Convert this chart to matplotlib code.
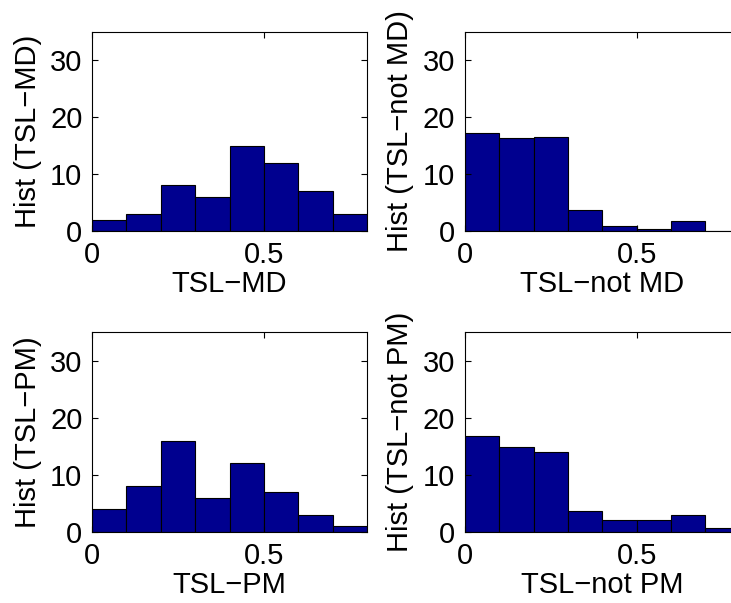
import matplotlib
matplotlib.use("Agg")
import matplotlib.pyplot as plt
import numpy as np

# bin edges shared by all four histograms
bin_edges = [0.0, 0.1, 0.2, 0.3, 0.4, 0.5, 0.6, 0.7, 0.8]

# bar heights
hist_md = [2, 3, 8, 6, 15, 12, 7, 3]
hist_not_md = [17.3, 16.3, 16.6, 3.6, 0.95, 0.3, 1.7, 0]
hist_pm = [4, 8, 16, 6, 12, 7, 3, 1]
hist_not_pm = [16.8, 14.8, 14.0, 3.65, 2.0, 2.0, 2.95, 0.6]

xlabels = ["TSL\u2212MD", "TSL\u2212not MD", "TSL\u2212PM", "TSL\u2212not PM"]

plt.rcParams['font.family'] = ['Liberation Sans', 'DejaVu Sans']
plt.rcParams['font.size'] = 21

fig = plt.figure(figsize=(7.31, 6.03), dpi=100)

# axes boxes in figure fraction; the right column runs past the figure edge
boxes = [
    [0.126, 0.617, 0.376, 0.330],
    [0.636, 0.617, 0.376, 0.330],
    [0.126, 0.118, 0.376, 0.331],
    [0.636, 0.118, 0.376, 0.331],
]
series = [hist_md, hist_not_md, hist_pm, hist_not_pm]

edges = np.array(bin_edges)
for box, counts, lab in zip(boxes, series, xlabels):
    ax = fig.add_axes(box)
    ax.bar(edges[:-1], counts, width=np.diff(edges), align='edge',
           color=(0, 0, 0.5625), edgecolor='black', linewidth=0.8)
    ax.set_xlim(0, 0.8)
    ax.set_ylim(0, 35)
    ax.set_xticks([0, 0.5])
    ax.set_xticklabels(['0', '0.5'])
    ax.set_yticks([0, 10, 20, 30])
    ax.tick_params(direction='in', top=True, right=True, length=4,
                   width=0.8, pad=7)
    ax.set_xlabel(lab, labelpad=1)
    ax.set_ylabel("Hist (" + lab + ")", labelpad=6)
    for s in ax.spines.values():
        s.set_linewidth(0.8)

fig.savefig("out.png", dpi=100)
